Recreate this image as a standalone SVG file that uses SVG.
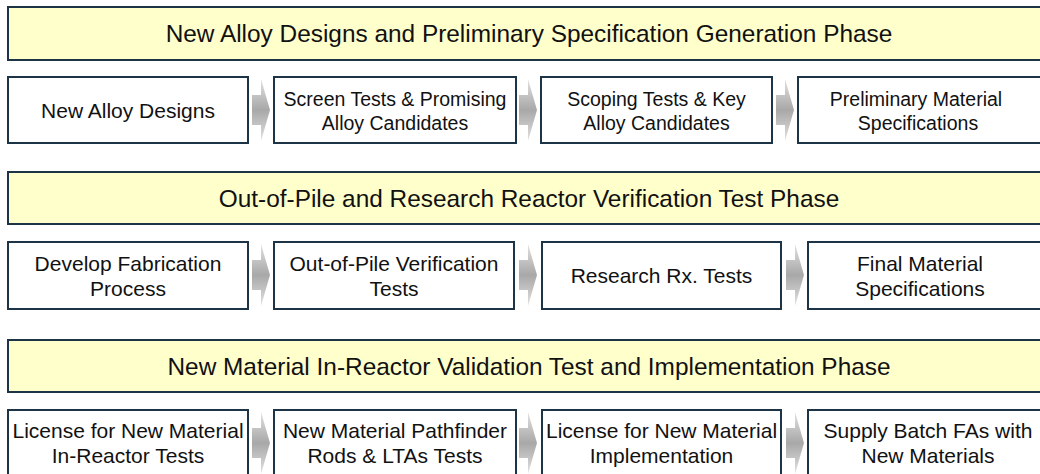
<svg xmlns="http://www.w3.org/2000/svg" xmlns:xlink="http://www.w3.org/1999/xlink" width="1040" height="474" viewBox="0 0 1040 474">
<style>
.banner{fill:#FFFFCC;stroke:#1C3446;stroke-width:2}
.box{fill:#FFFFFF;stroke:#1C3446;stroke-width:2}
text{font-family:"Liberation Sans",Arial,sans-serif;fill:#111;text-anchor:middle}
.bt{font-size:24.4px}
.t1{font-size:21px}
.t2{font-size:19.5px}
</style>
<defs>
<linearGradient id="ag" x1="0" y1="0" x2="0" y2="1">
<stop offset="0" stop-color="#E2E2E2"/>
<stop offset="0.5" stop-color="#A8A8A8"/>
<stop offset="1" stop-color="#E2E2E2"/>
</linearGradient>
<path id="arr" d="M0,18 L9,18 L9,2 L18,33 L9,64 L9,48 L0,48 Z" fill="url(#ag)"/>
</defs>
<rect width="1040" height="474" fill="#FFFFFF"/>

<g id="phase1">
<rect class="banner" x="8" y="7" width="1050" height="53"/>
<text class="bt" x="529" y="42">New Alloy Designs and Preliminary Specification Generation Phase</text>
</g>
<g id="n1a"><rect class="box" x="8" y="77" width="240" height="66"/><text class="t1" x="128" y="118">New Alloy Designs</text></g>
<g id="n1b"><rect class="box" x="274" y="77" width="242" height="66"/><text class="t2" x="395" y="106">Screen Tests &amp; Promising</text><text class="t2" x="395" y="130">Alloy Candidates</text></g>
<g id="n1c"><rect class="box" x="541" y="77" width="231" height="66"/><text class="t2" x="656.5" y="106">Scoping Tests &amp; Key</text><text class="t2" x="656.5" y="130">Alloy Candidates</text></g>
<g id="n1d"><rect class="box" x="798" y="77" width="260" height="66"/><text class="t2" x="916" y="106">Preliminary Material</text><text class="t2" x="918" y="130">Specifications</text></g>

<g id="phase2">
<rect class="banner" x="8" y="172" width="1050" height="52"/>
<text class="bt" x="529" y="207">Out-of-Pile and Research Reactor Verification Test Phase</text>
</g>
<g id="n2a"><rect class="box" x="8" y="242" width="240" height="67"/><text class="t1" x="128" y="271">Develop Fabrication</text><text class="t1" x="128" y="296">Process</text></g>
<g id="n2b"><rect class="box" x="274" y="242" width="240" height="67"/><text class="t1" x="394" y="271">Out-of-Pile Verification</text><text class="t1" x="394" y="296">Tests</text></g>
<g id="n2c"><rect class="box" x="542" y="242" width="239" height="67"/><text class="t1" x="661.5" y="283">Research Rx. Tests</text></g>
<g id="n2d"><rect class="box" x="808" y="242" width="260" height="67"/><text class="t1" x="920" y="271">Final Material</text><text class="t1" x="920" y="296">Specifications</text></g>

<g id="phase3">
<rect class="banner" x="8" y="340" width="1050" height="52"/>
<text class="bt" x="529" y="375">New Material In-Reactor Validation Test and Implementation Phase</text>
</g>
<g id="n3a"><rect class="box" x="8" y="410" width="240" height="66"/><text class="t1" x="128" y="438">License for New Material</text><text class="t1" x="128" y="463">In-Reactor Tests</text></g>
<g id="n3b"><rect class="box" x="274" y="410" width="242" height="66"/><text class="t1" x="395" y="438">New Material Pathfinder</text><text class="t1" x="395" y="463">Rods &amp; LTAs Tests</text></g>
<g id="n3c"><rect class="box" x="542" y="410" width="239" height="66"/><text class="t1" x="661.5" y="438">License for New Material</text><text class="t1" x="661.5" y="463">Implementation</text></g>
<g id="n3d"><rect class="box" x="808" y="410" width="260" height="66"/><text class="t1" x="928" y="438">Supply Batch FAs with</text><text class="t1" x="928" y="463">New Materials</text></g>

<g id="connectors">
<use xlink:href="#arr" x="252" y="77"/>
<use xlink:href="#arr" x="519" y="77"/>
<use xlink:href="#arr" x="776" y="77"/>
<use xlink:href="#arr" x="252" y="242"/>
<use xlink:href="#arr" x="519" y="242"/>
<use xlink:href="#arr" x="786" y="242"/>
<use xlink:href="#arr" x="252" y="410"/>
<use xlink:href="#arr" x="519" y="410"/>
<use xlink:href="#arr" x="786" y="410"/>
</g>
</svg>
